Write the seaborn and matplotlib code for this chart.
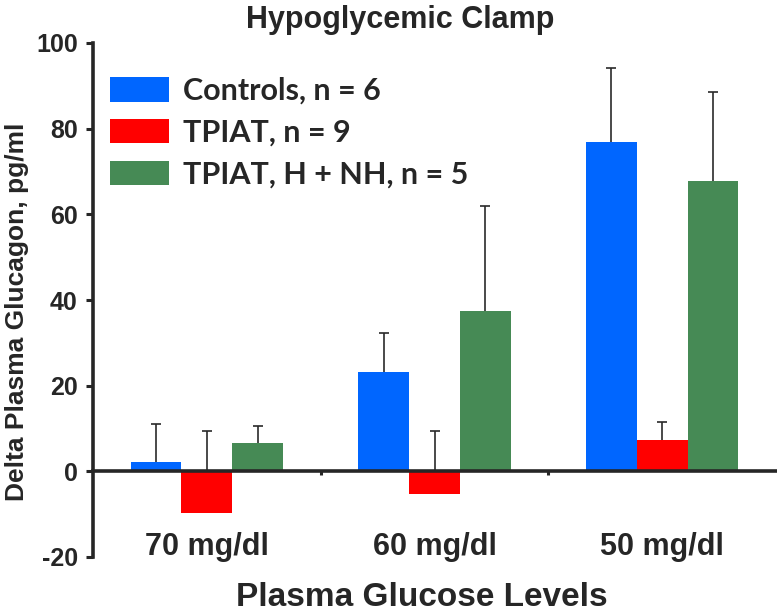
import matplotlib
matplotlib.use("Agg")
import matplotlib.pyplot as plt
import seaborn as sns
import pandas as pd
import numpy as np
from matplotlib.patches import Patch

# ---- data ----
levels = ["70 mg/dl", "60 mg/dl", "50 mg/dl"]
groups = ["Controls, n = 6", "TPIAT, n = 9", "TPIAT, H + NH, n = 5"]
controls_mean = [2.2, 23.1, 76.9]
controls_sem = [8.8, 9.3, 17.3]
tpiat_mean = [-9.8, -5.4, 7.4]
tpiat_sem = [19.1, 14.7, 4.2]
hnh_mean = [6.5, 37.5, 67.8]
hnh_sem = [4.2, 24.5, 20.8]
yticks = [-20, 0, 20, 40, 60, 80, 100]
colors = ["#0066FF", "#FF0000", "#468A55"]

means = [controls_mean, tpiat_mean, hnh_mean]
sems = [controls_sem, tpiat_sem, hnh_sem]
rows = []
for g, m, s in zip(groups, means, sems):
    for lv, mv, sv in zip(levels, m, s):
        rows.append({"level": lv, "group": g, "mean": mv, "sem": sv})
df = pd.DataFrame(rows)

sns.set_style("white")
plt.rcParams["font.family"] = ["Liberation Sans", "DejaVu Sans"]

fig = plt.figure(figsize=(7.77, 6.12), dpi=100)
ax = fig.add_axes([93/777, 1-557/612, (776-93)/777, (557-43)/612])

sns.barplot(data=df, x="level", y="mean", hue="group", order=levels,
            hue_order=groups, palette=colors, saturation=1, width=0.67, gap=0,
            errorbar=None, ax=ax, linewidth=0, zorder=3, legend=False)

# error bars (upward only), behind bars
for gi, g in enumerate(groups):
    cont = ax.containers[gi]
    sub = df[df.group == g].set_index("level").loc[levels]
    xs = [p.get_x() + p.get_width()/2 for p in cont.patches]
    mv = sub["mean"].values
    _, caps, _ = ax.errorbar(xs, mv,
                             yerr=[np.zeros(len(xs)), sub["sem"].values],
                             fmt="none", ecolor="#2a2a2a", elinewidth=1.2,
                             capsize=3.5, capthick=1.2, zorder=1)
    for c in caps:
        if np.allclose(np.asarray(c.get_ydata(), dtype=float), mv):
            c.set_visible(False)

ax.set_ylim(-20, 100)
ax.set_xlim(-0.5, 2.5)
ax.set_yticks(yticks)
ax.set_yticklabels([str(t) for t in yticks], fontsize=18, fontweight="bold")

for s in ["top", "right"]:
    ax.spines[s].set_visible(False)
ax.spines["left"].set_linewidth(2.6)
ax.spines["left"].set_zorder(5)
ax.spines["bottom"].set_position(("data", 0))
ax.spines["bottom"].set_linewidth(2.6)
ax.spines["bottom"].set_zorder(5)
ax.tick_params(axis="y", direction="out", length=5, width=2.2, pad=6, left=True)
ax.set_xticks([0, 1, 2])
ax.set_xticklabels(levels, fontsize=22, fontweight="bold")
ax.tick_params(axis="x", which="major", length=0, pad=44, bottom=True)
ax.set_xticks([0.5, 1.5], minor=True)
ax.tick_params(axis="x", which="minor", direction="out", length=3, width=2.2, bottom=True)
ax.set_xlabel("")
ax.set_ylabel("")

fig.text(17/777, 1-312/612, "Delta Plasma Glucagon, pg/ml", rotation=90,
         ha="center", va="center", fontsize=19, fontweight="bold")
fig.text(422/777, 1-597/612, "Plasma Glucose Levels", ha="center", va="center",
         fontsize=24, fontweight="bold")
fig.text(400/777, 1-20/612, "Hypoglycemic Clamp", ha="center", va="center",
         fontsize=22, fontweight="bold")

handles = [Patch(facecolor=c, edgecolor="none") for c in colors]
ax.legend(handles, groups, loc="upper left", bbox_to_anchor=(0.025, 0.934),
          frameon=False, borderpad=0, borderaxespad=0, handlelength=1.93,
          handleheight=0.85, labelspacing=0.45, handletextpad=0.45,
          prop={"family": "Lato", "weight": "bold", "size": 22})

fig.savefig("out.png", dpi=100)
